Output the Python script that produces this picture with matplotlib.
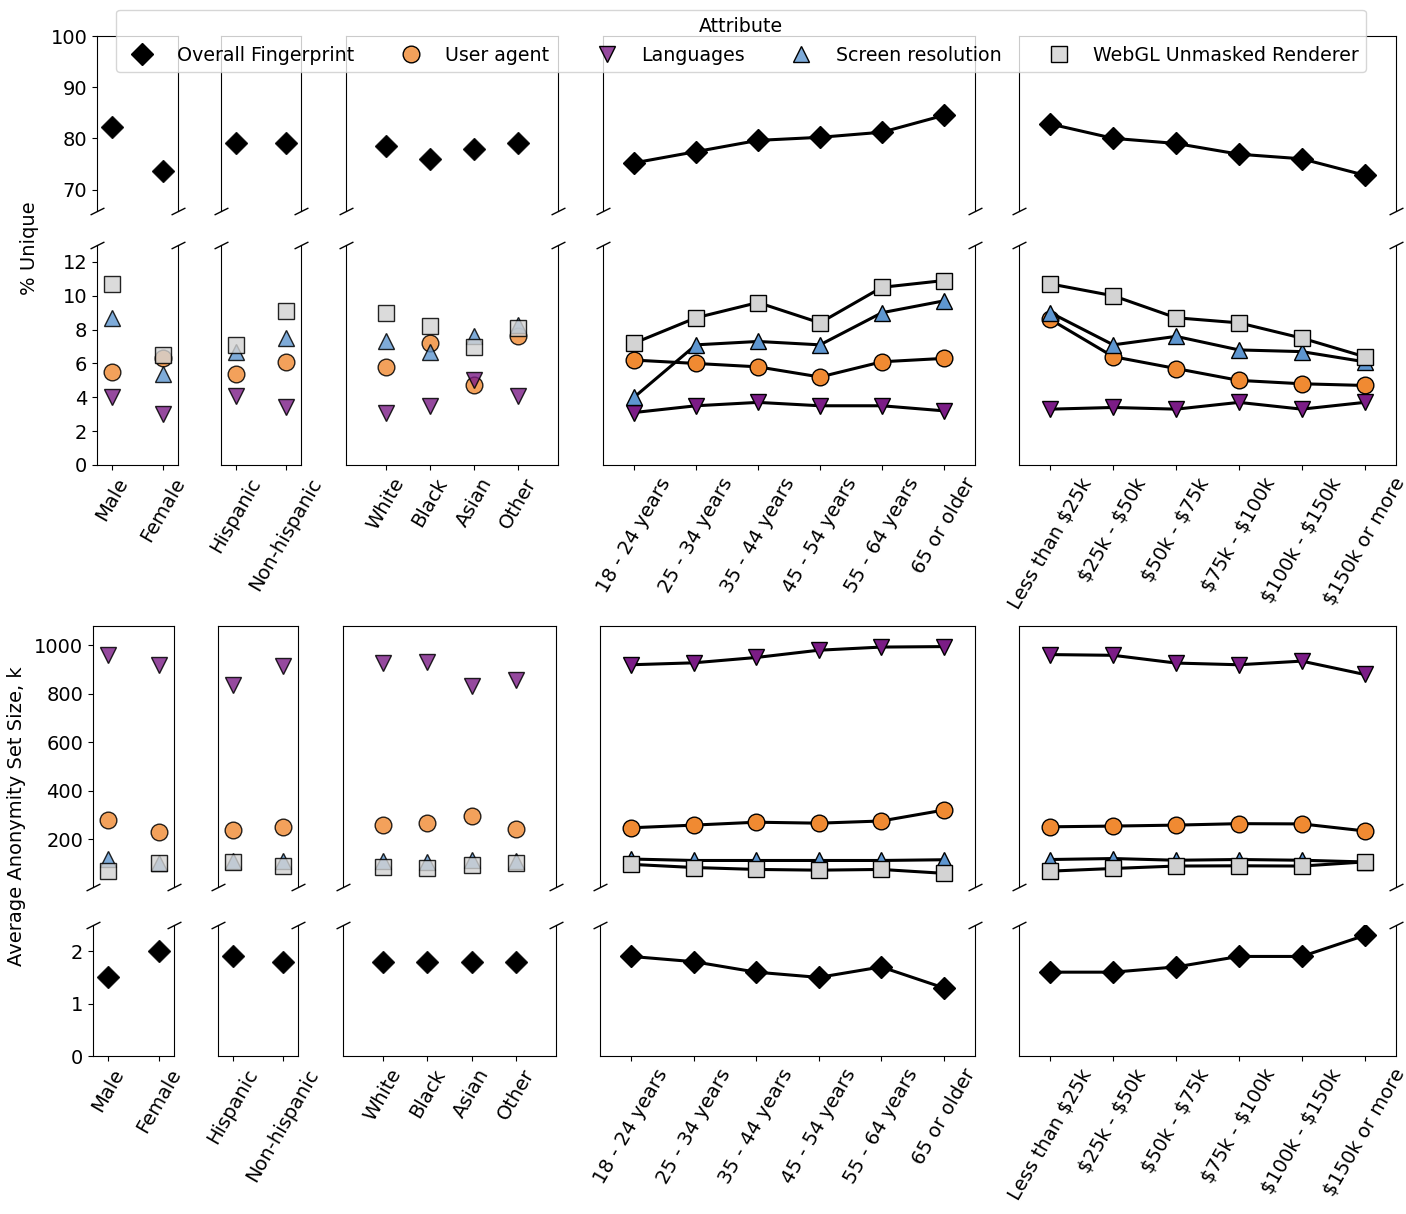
import matplotlib
matplotlib.use('Agg')
import matplotlib.pyplot as plt
from matplotlib.lines import Line2D
from matplotlib.colors import to_rgba

plt.rcParams['font.family'] = ['DejaVu Sans']
plt.rcParams['font.size'] = 14

# ---------------- data ----------------
sex_cats = ['Male', 'Female']
eth_cats = ['Hispanic', 'Non-hispanic']
race_cats = ['White', 'Black', 'Asian', 'Other']
age_cats = ['18 - 24 years', '25 - 34 years', '35 - 44 years', '45 - 54 years',
            '55 - 64 years', '65 or older']
inc_cats = ['Less than $25k', '$25k - $50k', '$50k - $75k', '$75k - $100k',
            '$100k - $150k', '$150k or more']

attributes = ['Overall Fingerprint', 'User agent', 'Languages',
              'Screen resolution', 'WebGL Unmasked Renderer']

# % unique (order: sex, ethnicity, race, age, income)
uniq_overall = [82.2, 73.6, 79.0, 79.0, 78.6, 76.0, 77.9, 79.1,
                75.2, 77.4, 79.6, 80.2, 81.2, 84.5,
                82.8, 80.0, 79.0, 76.9, 76.0, 72.8]
uniq_ua = [5.5, 6.3, 5.4, 6.1, 5.8, 7.2, 4.7, 7.6,
           6.2, 6.0, 5.8, 5.2, 6.1, 6.3,
           8.6, 6.4, 5.7, 5.0, 4.8, 4.7]
uniq_lang = [4.0, 3.0, 4.1, 3.4, 3.1, 3.5, 5.0, 4.1,
             3.1, 3.5, 3.7, 3.5, 3.5, 3.2,
             3.3, 3.4, 3.3, 3.7, 3.3, 3.7]
uniq_screen = [8.7, 5.4, 6.7, 7.5, 7.3, 6.7, 7.6, 8.3,
               4.0, 7.1, 7.3, 7.1, 9.0, 9.7,
               9.0, 7.1, 7.6, 6.8, 6.7, 6.1]
uniq_webgl = [10.7, 6.5, 7.1, 9.1, 9.0, 8.2, 7.0, 8.1,
              7.2, 8.7, 9.6, 8.4, 10.5, 10.9,
              10.7, 10.0, 8.7, 8.4, 7.5, 6.4]

# average anonymity set size, k
anon_overall = [1.5, 2.0, 1.9, 1.8, 1.8, 1.8, 1.8, 1.8,
                1.9, 1.8, 1.6, 1.5, 1.7, 1.3,
                1.6, 1.6, 1.7, 1.9, 1.9, 2.3]
anon_ua = [281, 228, 237, 251, 258, 265, 295, 240,
           247, 258, 270, 266, 275, 320,
           251, 254, 258, 264, 263, 234]
anon_lang = [959, 918, 838, 913, 927, 931, 831, 856,
             920, 928, 950, 980, 993, 995,
             962, 959, 927, 920, 935, 880]
anon_screen = [120, 100, 110, 110, 110, 105, 115, 110,
               118, 112, 112, 112, 112, 115,
               116, 120, 113, 116, 113, 106]
anon_webgl = [69, 100, 104, 89, 86, 79, 93, 102,
              96, 83, 75, 72, 75, 59,
              68, 79, 89, 90, 89, 106]

groups = [sex_cats, eth_cats, race_cats, age_cats, inc_cats]
connected = [False, False, False, True, True]

# ---------------- style ----------------
markers = ['D', 'o', 'v', '^', 's']
colors = ['black', '#F08A32', '#7B1C86', '#5E96D0', '#D3D3D3']
face_alpha = [1.0, 0.8, 0.8, 0.8, 0.8]

W, H = 1406, 1214
cols_top = [(97, 178), (221, 301), (346, 558), (603, 975), (1019, 1396)]
cols_bot = [(93, 174), (218, 298), (343, 556), (600, 975), (1019, 1396)]
xlims = [(-0.3, 1.3), (-0.3, 1.3), (-0.9, 3.9), (-0.5, 5.5), (-0.5, 5.5)]


def rect(l, r, t, b):
    return [l / W, 1 - b / H, (r - l) / W, (b - t) / H]


def draw(ax, x, y, i, connect):
    ms = 11 if markers[i] == 'D' else 12
    if connect:
        ax.plot(x, y, color='black', lw=2.2, marker=markers[i], ms=ms,
                mfc=colors[i], mec='black', mew=1, zorder=2 + i)
    else:
        ax.plot(x, y, linestyle='none', marker=markers[i], ms=ms,
                mfc=to_rgba(colors[i], face_alpha[i]),
                mec=to_rgba('black', 0.85), mew=1, zorder=2 + i)


brk = dict(marker=[(-1, -0.5), (1, 0.5)], markersize=10, linestyle='none',
           color='k', mec='k', mew=1, clip_on=False)


def style_upper(ax):
    ax.spines['bottom'].set_visible(False)
    ax.tick_params(axis='x', bottom=False, labelbottom=False)
    ax.plot([0, 1], [0, 0], transform=ax.transAxes, **brk)


def style_lower(ax, cats):
    ax.spines['top'].set_visible(False)
    x = list(range(len(cats)))
    ax.set_xticks(x, [c.replace('$', r'\$') for c in cats], rotation=60)
    ax.plot([0, 1], [1, 1], transform=ax.transAxes, **brk)


fig = plt.figure(figsize=(W / 100, H / 100), dpi=100)

start = 0
for j, cats in enumerate(groups):
    n = len(cats)
    sl = slice(start, start + n)
    start += n
    x = list(range(n))
    con = connected[j]

    # ---- % unique ----
    l, r = cols_top[j]
    a1 = fig.add_axes(rect(l, r, 36, 211))
    a2 = fig.add_axes(rect(l, r, 245, 465))
    draw(a1, x, uniq_overall[sl], 0, con)
    for i, vals in enumerate([uniq_ua, uniq_lang, uniq_screen, uniq_webgl], start=1):
        draw(a2, x, vals[sl], i, con)
    a1.set_ylim(65.8, 100)
    a2.set_ylim(0, 13)
    a1.set_yticks([70, 80, 90, 100])
    a2.set_yticks([0, 2, 4, 6, 8, 10, 12])

    # ---- anonymity set size ----
    l, r = cols_bot[j]
    b1 = fig.add_axes(rect(l, r, 626, 887))
    b2 = fig.add_axes(rect(l, r, 925, 1056))
    for i, vals in enumerate([anon_ua, anon_lang, anon_screen, anon_webgl], start=1):
        draw(b1, x, vals[sl], i, con)
    draw(b2, x, anon_overall[sl], 0, con)
    b1.set_ylim(2.5, 1080)
    b2.set_ylim(0, 2.5)
    b1.set_yticks([200, 400, 600, 800, 1000])
    b2.set_yticks([0, 1, 2])

    for ax in (a1, a2, b1, b2):
        ax.set_xlim(*xlims[j])
        if j > 0:
            ax.tick_params(axis='y', left=False, labelleft=False)
    style_upper(a1)
    style_upper(b1)
    style_lower(a2, cats)
    style_lower(b2, cats)

fig.text(30 / W, 1 - 248 / H, '% Unique', rotation=90, ha='center', va='center')
fig.text(17 / W, 1 - 816 / H, 'Average Anonymity Set Size, k', rotation=90,
         ha='center', va='center')

handles = []
for i in range(5):
    ms = 11 if markers[i] == 'D' else 12
    handles.append(Line2D([], [], linestyle='none', marker=markers[i], ms=ms,
                          mfc=to_rgba(colors[i], face_alpha[i]), mec='black',
                          mew=1))
fig.legend(handles, attributes, loc='upper center', bbox_to_anchor=(741 / W, 1.0),
           ncol=5, title='Attribute', fontsize=13.7, title_fontsize=13.7)

fig.savefig('out.png', dpi=100)
